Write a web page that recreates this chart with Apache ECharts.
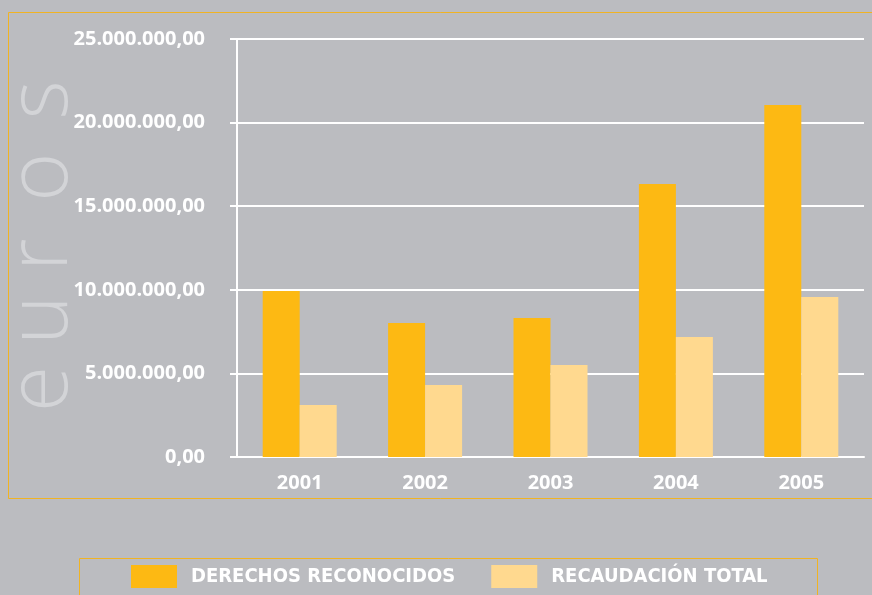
<!DOCTYPE html>
<html>
<head>
<meta charset="utf-8">
<script src="https://cdn.jsdelivr.net/npm/echarts@6/dist/echarts.min.js"></script>
<style>
  html, body { margin: 0; padding: 0; background: #bbbcc0; }
  #chart { width: 872px; height: 595px; }
</style>
</head>
<body>
<div id="chart"></div>
<script>
// datos
var years = ['2001', '2002', '2003', '2004', '2005'];
var derechosReconocidos = [9930000, 8010000, 8310000, 16330000, 21050000];
var recaudacionTotal = [3110000, 4310000, 5500000, 7180000, 9570000];
var seriesNames = ['DERECHOS RECONOCIDOS', 'RECAUDACIÓN TOTAL'];
var axisTitle = ['e', 'u', 'r', 'o', 's'];

var fmtEuros = function (v) {
    var s = String(Math.round(v)).replace(/\B(?=(\d{3})+(?!\d))/g, '.');
    return s + ',00';
};

var chart = echarts.init(document.getElementById('chart'));

// letras de "euros" en vertical, de abajo hacia arriba
var letterY = [389, 320, 255, 177, 100];
var titleGraphics = axisTitle.map(function (ch, i) {
    return {
        type: 'text',
        silent: true,
        x: 43,
        y: letterY[i],
        rotation: Math.PI / 2,
        style: {
            text: ch,
            fill: '#d3d4d7',
            font: '300 84px "Open Sans"',
            align: 'center',
            verticalAlign: 'middle'
        }
    };
});

var option = {
    backgroundColor: '#bbbcc0',
    animation: false,
    textStyle: { fontFamily: 'Open Sans' },
    grid: { left: 237, right: 8, top: 39, bottom: 138 },
    legend: {
        data: seriesNames,
        top: 565,
        left: 131,
        padding: 0,
        itemWidth: 46,
        itemHeight: 23,
        itemGap: 36,
        icon: 'rect',
        textStyle: {
            color: '#ffffff', fontSize: 20, fontWeight: 'bold',
            fontFamily: 'DejaVu Sans Condensed', padding: [0, 0, 0, 9]
        }
    },
    xAxis: {
        type: 'category',
        data: years,
        axisLine: { lineStyle: { color: '#ffffff', width: 2 } },
        axisTick: { length: 7, lineStyle: { color: '#ffffff', width: 2 } },
        axisLabel: { color: '#ffffff', fontSize: 20, fontWeight: 'bold', fontFamily: 'Open Sans', margin: 16 }
    },
    yAxis: {
        type: 'value',
        min: 0,
        max: 25000000,
        interval: 5000000,
        axisLine: { show: true, lineStyle: { color: '#ffffff', width: 2 } },
        axisTick: { show: true, length: 7, lineStyle: { color: '#ffffff', width: 2 } },
        splitLine: { lineStyle: { color: '#ffffff', width: 2 } },
        axisLabel: {
            color: '#ffffff', fontSize: 20, fontWeight: 'bold', fontFamily: 'Open Sans',
            margin: 32, formatter: fmtEuros
        }
    },
    series: [
        {
            name: seriesNames[0],
            type: 'bar',
            data: derechosReconocidos,
            barWidth: 37,
            barGap: '0%',
            itemStyle: { color: '#fdb913' }
        },
        {
            name: seriesNames[1],
            type: 'bar',
            data: recaudacionTotal,
            barWidth: 37,
            barGap: '0%',
            itemStyle: { color: '#ffd98f' }
        }
    ],
    graphic: [
        {
            type: 'rect',
            silent: true,
            z: -1,
            shape: { x: 8.5, y: 12.5, width: 880, height: 486 },
            style: { fill: 'none', stroke: '#f0b323', lineWidth: 1 }
        },
        {
            type: 'rect',
            silent: true,
            z: -1,
            shape: { x: 79.5, y: 558.5, width: 738, height: 60 },
            style: { fill: 'none', stroke: '#f0b323', lineWidth: 1 }
        }
    ].concat(titleGraphics)
};

chart.setOption(option);
</script>
</body>
</html>
